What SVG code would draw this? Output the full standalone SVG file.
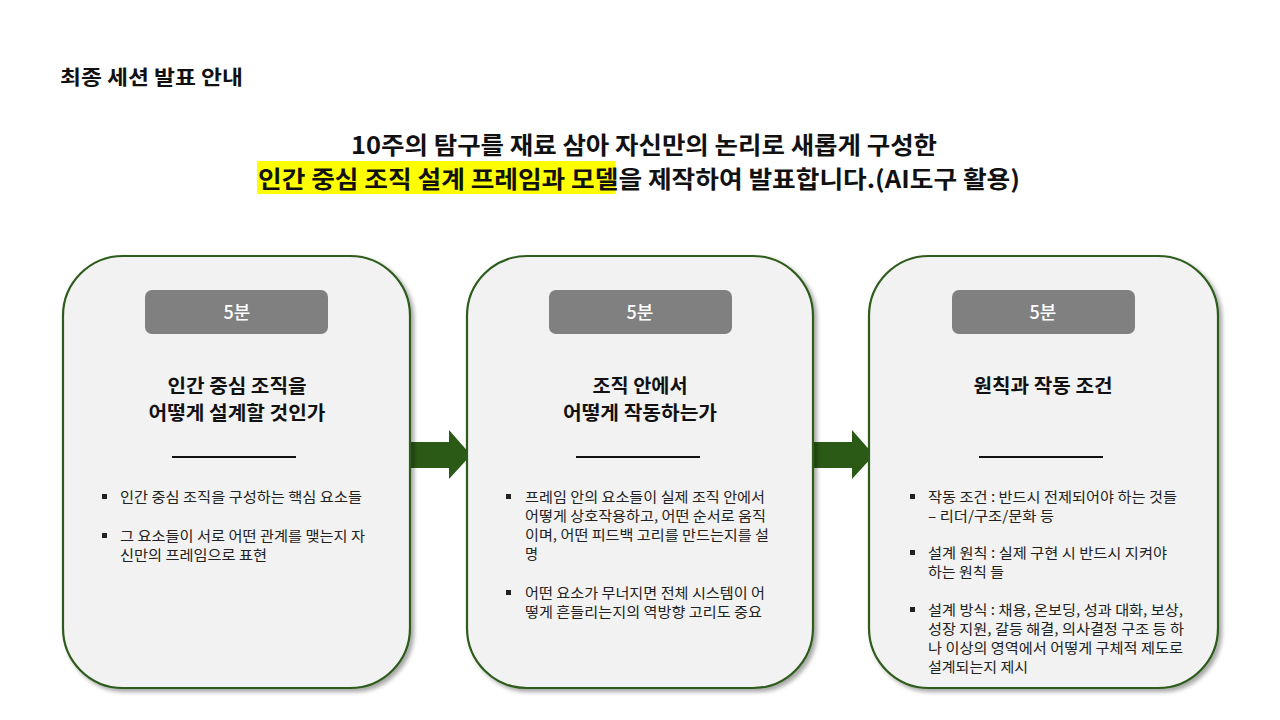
<svg xmlns="http://www.w3.org/2000/svg" width="1280" height="720" viewBox="0 0 1280 720">
<defs>
<style>
.hdr{font-family:"Noto Sans CJK KR","Noto Sans",sans-serif;font-weight:700;fill:#111}
.ttl{font-family:"Noto Sans CJK KR","Noto Sans",sans-serif;font-weight:700;font-size:24px;fill:#111;text-anchor:middle}
.card{fill:#F2F2F2;stroke:#2E5C1B;stroke-width:2.2}
.pill{fill:#808080}
.pilltxt{font-family:"Noto Sans CJK KR","Noto Sans",sans-serif;font-size:18px;font-weight:500;fill:#fff;text-anchor:middle}
.ctitle{font-family:"Noto Sans CJK KR","Noto Sans",sans-serif;font-weight:700;font-size:19.5px;fill:#111;text-anchor:middle}
.rule{stroke:#111;stroke-width:2}
.body{font-family:"Noto Sans CJK KR","Noto Sans",sans-serif;font-size:14.2px;fill:#222}
.bul{fill:#222}
.arrow{fill:#2B5A16}
</style>
<filter id="sh" x="-10%" y="-10%" width="125%" height="125%">
<feDropShadow dx="3" dy="3" stdDeviation="2.2" flood-color="#000" flood-opacity="0.35"/>
</filter>
</defs>
<rect width="1280" height="720" fill="#fff"/>

<g id="header">
<text class="hdr" x="60" y="85" font-size="20" textLength="183" lengthAdjust="spacingAndGlyphs">최종 세션 발표 안내</text>
</g>

<g id="title">
<rect x="257" y="161" width="358" height="33" fill="#FFFF00"/>
<text class="ttl" x="644" y="154" textLength="586" lengthAdjust="spacingAndGlyphs">10주의 탐구를 재료 삼아 자신만의 논리로 새롭게 구성한</text>
<text x="258" y="188" class="ttl" style="text-anchor:start" textLength="762" lengthAdjust="spacingAndGlyphs">인간 중심 조직 설계 프레임과 모델을 제작하여 발표합니다.(AI도구 활용)</text>
</g>

<g id="connectors">
<polygon class="arrow" points="405,442 449,442 449,430 471,455 449,479 449,468 405,468"/>
<polygon class="arrow" points="808,442 852,442 852,430 874,455 852,479 852,468 808,468"/>
</g>

<g id="card1">
<rect class="card" x="63" y="256" width="347" height="432" rx="60" ry="60" filter="url(#sh)"/>
<rect class="pill" x="145" y="290" width="183" height="44" rx="7"/>
<text class="pilltxt" x="237" y="319">5분</text>
<text class="ctitle" x="237" y="393" textLength="139" lengthAdjust="spacingAndGlyphs">인간 중심 조직을</text>
<text class="ctitle" x="237" y="420" textLength="177" lengthAdjust="spacingAndGlyphs">어떻게 설계할 것인가</text>
<line class="rule" x1="172" y1="457" x2="296" y2="457"/>
<rect class="bul" x="102" y="494" width="5" height="5"/>
<text class="body" x="120" y="502" textLength="242" lengthAdjust="spacingAndGlyphs">인간 중심 조직을 구성하는 핵심 요소들</text>
<rect class="bul" x="102" y="533" width="5" height="5"/>
<text class="body" x="120" y="541" textLength="245" lengthAdjust="spacingAndGlyphs">그 요소들이 서로 어떤 관계를 맺는지 자</text>
<text class="body" x="120" y="560" textLength="147" lengthAdjust="spacingAndGlyphs">신만의 프레임으로 표현</text>
</g>

<g id="card2">
<rect class="card" x="467" y="256" width="346" height="432" rx="60" ry="60" filter="url(#sh)"/>
<rect class="pill" x="549" y="290" width="183" height="44" rx="7"/>
<text class="pilltxt" x="640" y="319">5분</text>
<text class="ctitle" x="640" y="393" textLength="95" lengthAdjust="spacingAndGlyphs">조직 안에서</text>
<text class="ctitle" x="640" y="420" textLength="154" lengthAdjust="spacingAndGlyphs">어떻게 작동하는가</text>
<line class="rule" x1="576" y1="457" x2="700" y2="457"/>
<rect class="bul" x="506" y="494" width="5" height="5"/>
<text class="body" x="525" y="502" textLength="240" lengthAdjust="spacingAndGlyphs">프레임 안의 요소들이 실제 조직 안에서</text>
<text class="body" x="525" y="521" textLength="241" lengthAdjust="spacingAndGlyphs">어떻게 상호작용하고, 어떤 순서로 움직</text>
<text class="body" x="525" y="540" textLength="244" lengthAdjust="spacingAndGlyphs">이며, 어떤 피드백 고리를 만드는지를 설</text>
<text class="body" x="525" y="559">명</text>
<rect class="bul" x="506" y="590" width="5" height="5"/>
<text class="body" x="525" y="598" textLength="240" lengthAdjust="spacingAndGlyphs">어떤 요소가 무너지면 전체 시스템이 어</text>
<text class="body" x="525" y="617" textLength="237" lengthAdjust="spacingAndGlyphs">떻게 흔들리는지의 역방향 고리도 중요</text>
</g>

<g id="card3">
<rect class="card" x="869" y="256" width="349" height="432" rx="60" ry="60" filter="url(#sh)"/>
<rect class="pill" x="952" y="290" width="183" height="44" rx="7"/>
<text class="pilltxt" x="1043" y="319">5분</text>
<text class="ctitle" x="1043" y="393" textLength="139" lengthAdjust="spacingAndGlyphs">원칙과 작동 조건</text>
<line class="rule" x1="979" y1="457" x2="1103" y2="457"/>
<rect class="bul" x="910" y="494" width="5" height="5"/>
<text class="body" x="928" y="502" textLength="249" lengthAdjust="spacingAndGlyphs">작동 조건 : 반드시 전제되어야 하는 것들</text>
<text class="body" x="928" y="521" textLength="126" lengthAdjust="spacingAndGlyphs">– 리더/구조/문화 등</text>
<rect class="bul" x="910" y="550" width="5" height="5"/>
<text class="body" x="928" y="558" textLength="239" lengthAdjust="spacingAndGlyphs">설계 원칙 : 실제 구현 시 반드시 지켜야</text>
<text class="body" x="928" y="577" textLength="76" lengthAdjust="spacingAndGlyphs">하는 원칙 들</text>
<rect class="bul" x="910" y="607" width="5" height="5"/>
<text class="body" x="928" y="615" textLength="255" lengthAdjust="spacingAndGlyphs">설계 방식 : 채용, 온보딩, 성과 대화, 보상,</text>
<text class="body" x="928" y="634" textLength="256" lengthAdjust="spacingAndGlyphs">성장 지원, 갈등 해결, 의사결정 구조 등 하</text>
<text class="body" x="928" y="653" textLength="255" lengthAdjust="spacingAndGlyphs">나 이상의 영역에서 어떻게 구체적 제도로</text>
<text class="body" x="928" y="672" textLength="100" lengthAdjust="spacingAndGlyphs">설계되는지 제시</text>
</g>
</svg>
